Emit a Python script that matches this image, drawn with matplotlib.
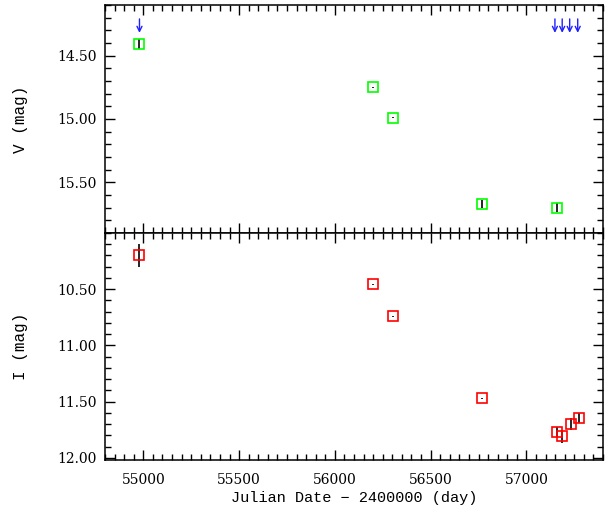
import matplotlib
matplotlib.use("Agg")
import matplotlib.pyplot as plt
from matplotlib.ticker import MultipleLocator, FormatStrFormatter, FixedLocator

# V band
jd_v = [54979, 56200, 56304, 56770, 57160]
mag_v = [14.41, 14.75, 14.99, 15.67, 15.70]
err_v = [0.04, 0.005, 0.005, 0.03, 0.035]

# V upper limits (arrows)
jd_lim = [54980, 57149, 57187, 57226, 57268]
mag_lim = [14.32, 14.32, 14.32, 14.32, 14.32]

# I band
jd_i = [54979, 56200, 56304, 56770, 57158, 57186, 57232, 57273]
mag_i = [10.20, 10.455, 10.74, 11.47, 11.77, 11.81, 11.70, 11.65]
err_i = [0.10, 0.005, 0.005, 0.005, 0.045, 0.056, 0.05, 0.045]

v_ticks = [14.5, 15.0, 15.5]
i_ticks = [10.5, 11.0, 11.5, 12.0]

tickfont = "DejaVu Serif"
labfont = "Liberation Mono"

fig = plt.figure(figsize=(6.09, 5.14), dpi=100)
ax1 = fig.add_axes([105 / 609, 1 - 233 / 514, 498 / 609, 228 / 514])
ax2 = fig.add_axes([105 / 609, 1 - 460 / 514, 498 / 609, 227 / 514])


def style(ax, yt):
    ax.set_xlim(54800, 57400)
    ax.xaxis.set_major_locator(MultipleLocator(500))
    ax.xaxis.set_minor_locator(MultipleLocator(50))
    ax.yaxis.set_major_locator(FixedLocator(yt))
    ax.yaxis.set_minor_locator(MultipleLocator(0.1))
    ax.yaxis.set_major_formatter(FormatStrFormatter("%.2f"))
    ax.tick_params(which="both", direction="in", top=True, right=True,
                   width=1.0, color="black")
    ax.tick_params(which="major", length=7)
    ax.tick_params(which="minor", length=4.5)
    ax.tick_params(axis="y", pad=6)
    ax.tick_params(axis="x", pad=9)
    for s in ax.spines.values():
        s.set_linewidth(1.1)
    for lab in ax.get_xticklabels() + ax.get_yticklabels():
        lab.set_fontfamily(tickfont)
        lab.set_fontsize(10)


# top panel
ax1.errorbar(jd_v, mag_v, yerr=err_v, fmt="none", ecolor="black", elinewidth=1.2, capsize=0)
ax1.plot(jd_v, mag_v, ls="none", marker="s", ms=7, mfc="none", mec="#00ff00", mew=1.2)
for x, y in zip(jd_lim, mag_lim):
    ax1.annotate("", xy=(x, y), xytext=(x, y - 0.11),
                 arrowprops=dict(arrowstyle="->", color="#2020ff", lw=1.0,
                                 shrinkA=0, shrinkB=0, mutation_scale=9))
ax1.set_ylim(15.9, 14.1)
style(ax1, v_ticks)
ax1.tick_params(labelbottom=False)
ax1.set_ylabel("V (mag)", fontfamily=labfont, fontsize=11.5)
ax1.yaxis.set_label_coords(-0.169, 0.5)
ax1.yaxis.label.set_va("center")

# bottom panel
ax2.errorbar(jd_i, mag_i, yerr=err_i, fmt="none", ecolor="black", elinewidth=1.2, capsize=0)
ax2.plot(jd_i, mag_i, ls="none", marker="s", ms=7, mfc="none", mec="#ff0000", mew=1.2)
ax2.set_ylim(12.02, 10.0)
style(ax2, i_ticks)
ax2.set_ylabel("I (mag)", fontfamily=labfont, fontsize=11.5)
ax2.yaxis.set_label_coords(-0.169, 0.5)
ax2.yaxis.label.set_va("center")
ax2.set_xlabel("Julian Date \u2212 2400000 (day)", fontfamily=labfont, fontsize=11)
ax2.xaxis.set_label_coords(0.5, -0.167)
ax2.xaxis.label.set_va("center")

fig.savefig("out.png", dpi=100)
